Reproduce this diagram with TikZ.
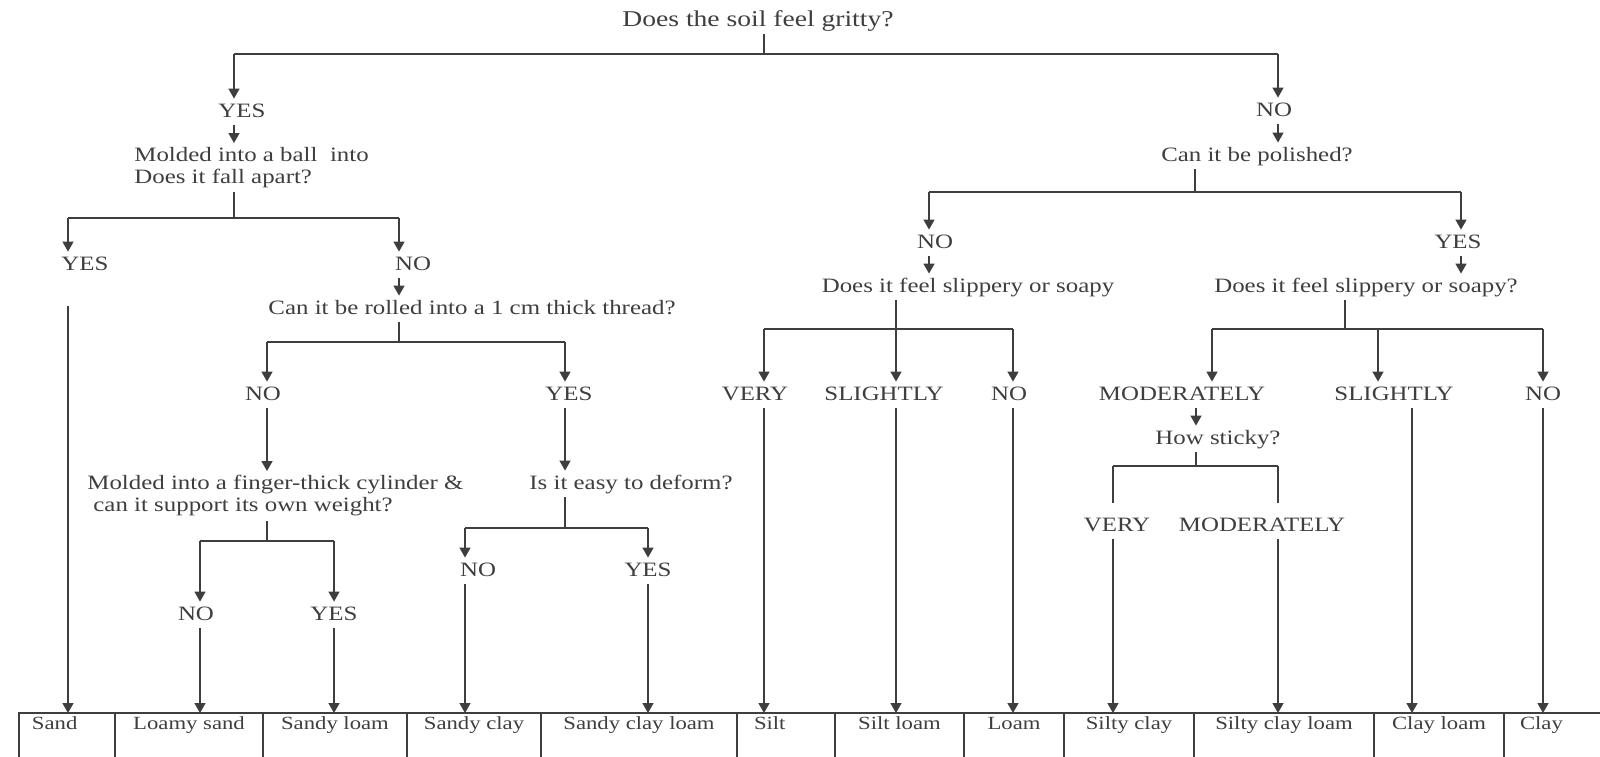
\documentclass[tikz,border=0pt]{standalone}
\usepackage{fontspec}
\setmainfont{Liberation Serif}[FakeStretch=1.22]
\usepackage{tikz}
\usetikzlibrary{arrows.meta}
\usetikzlibrary{calc}
\usetikzlibrary{positioning}
\definecolor{ink}{RGB}{62,62,62}
\newcommand{\askfont}{\fontsize{10.2}{11}\selectfont}
\newcommand{\cellfont}{\fontsize{9.3}{11}\selectfont}
\tikzset{
    common/.style={inner sep=2pt, text=ink},
    question/.style={common, font=\askfont, text height=7pt, text depth=2pt, anchor=base},
    answer/.style={question},
    block/.style={common, font=\askfont, align=left, anchor=north west},
    cell/.style={draw=ink, line width=0.7pt, outer sep=0pt, inner xsep=0pt, inner ysep=0pt,
        text=ink, font=\cellfont, text height=8pt, text depth=26pt},
    cell-left/.style={cell, align=left},
    wire/.style={draw=ink, line width=0.7pt},
    link/.style={wire, -{Triangle[length=5pt, width=5.5pt]}}
}

\begin{document}
\begin{tikzpicture}[x=0.5pt, y=-0.5pt]
      \useasboundingbox (0,0) rectangle (1600,756);

      % questions
      \node[question, font=\fontsize{11.3}{13}\selectfont] (q-gritty) at (758,26) {Does the soil feel gritty?};
      \node[block] (q-ball) at (130,143) {Molded into a ball~ into\\Does it fall apart?};
      \node[question] (q-roll) at (472,314) {Can it be rolled into a 1 cm thick thread?};
      \node[block] (q-cyl) at (83,471) {Molded into a finger-thick cylinder \&\\\hspace*{3pt}can it support its own weight?};
      \node[question] (q-deform) at (631,489) {Is it easy to deform?};
      \node[question] (q-polish) at (1257,161) {Can it be polished?};
      \node[question] (q-slip-1) at (968,292) {Does it feel slippery or soapy};
      \node[question] (q-slip-2) at (1366,292) {Does it feel slippery or soapy?};
      \node[question] (q-sticky) at (1218,444) {How sticky?};

      % answers
      \node[answer] (yes-1) at (242,117) {YES};
      \node[answer] (no-1) at (1274,116) {NO};
      \node[answer] (yes-2) at (85,270) {YES};
      \node[answer] (no-2) at (413,270) {NO};
      \node[answer] (no-3) at (263,400) {NO};
      \node[answer] (yes-3) at (569,400) {YES};
      \node[answer] (no-4) at (196,620) {NO};
      \node[answer] (yes-4) at (334,620) {YES};
      \node[answer] (no-5) at (478,576) {NO};
      \node[answer] (yes-5) at (648,576) {YES};
      \node[answer] (no-6) at (935,248) {NO};
      \node[answer] (yes-6) at (1458,248) {YES};
      \node[answer] (very-1) at (755,400) {VERY};
      \node[answer] (slightly-1) at (884,400) {SLIGHTLY};
      \node[answer] (no-7) at (1009,400) {NO};
      \node[answer] (mod-1) at (1182,400) {MODERATELY};
      \node[answer] (slightly-2) at (1394,400) {SLIGHTLY};
      \node[answer] (no-8) at (1543,400) {NO};
      \node[answer] (very-2) at (1117,531) {VERY};
      \node[answer] (mod-2) at (1262,531) {MODERATELY};

      % texture classes
      \node[cell-left, text width=35pt, inner xsep=6.5pt, anchor=north west] (c-sand) at (19,713) {Sand};
      \node[cell, minimum width=74pt, right=0pt of c-sand] (c-lsand) {Loamy sand};
      \node[cell, minimum width=72pt, right=0pt of c-lsand] (c-sloam) {Sandy loam};
      \node[cell, minimum width=67pt, right=0pt of c-sloam] (c-sclay) {Sandy clay};
      \node[cell, minimum width=98pt, right=0pt of c-sclay] (c-scloam) {Sandy clay loam};
      \node[cell-left, text width=32pt, inner xsep=8.5pt, right=0pt of c-scloam] (c-silt) {Silt};
      \node[cell, minimum width=64.5pt, right=0pt of c-silt] (c-siloam) {Silt loam};
      \node[cell, minimum width=50pt, right=0pt of c-siloam] (c-loam) {Loam};
      \node[cell, minimum width=65pt, right=0pt of c-loam] (c-siclay) {Silty clay};
      \node[cell, minimum width=90pt, right=0pt of c-siclay] (c-sicloam) {Silty clay loam};
      \node[cell, minimum width=65pt, right=0pt of c-sicloam] (c-cloam) {Clay loam};
      \node[cell-left, text width=42pt, inner xsep=8pt, right=0pt of c-cloam] (c-clay) {Clay};

      % branching bars
      \coordinate (b0) at (764,54);   \coordinate (b0-l) at (234,54);   \coordinate (b0-r) at (1278,54);
      \coordinate (b1) at (234,218);  \coordinate (b1-l) at (68,218);   \coordinate (b1-r) at (399,218);
      \coordinate (b2) at (399,342);  \coordinate (b2-l) at (267,342);  \coordinate (b2-r) at (565,342);
      \coordinate (b3) at (267,541);  \coordinate (b3-l) at (200,541);  \coordinate (b3-r) at (334,541);
      \coordinate (b4) at (565,528);  \coordinate (b4-l) at (465,528);  \coordinate (b4-r) at (648,528);
      \coordinate (b5) at (1195,192); \coordinate (b5-l) at (929,192);  \coordinate (b5-r) at (1461,192);
      \coordinate (b6) at (896,329);  \coordinate (b6-l) at (764,329);  \coordinate (b6-r) at (1013,329);
      \coordinate (b7) at (1345,329); \coordinate (b7-l) at (1212,329); \coordinate (b7-m) at (1378,329);
      \coordinate (b7-r) at (1543,329);
      \coordinate (b8) at (1196,466); \coordinate (b8-l) at (1113,466); \coordinate (b8-r) at (1278,466);
      \coordinate (drop-cl) at (1412,400);

      \draw[wire] (q-gritty.south -| b0) -- (b0) (b0-l) -- (b0-r);
      \draw[link] (b0-l) -- (b0-l |- yes-1.north);
      \draw[link] (b0-r) -- (b0-r |- no-1.north);

      % gritty side
      \draw[link] (yes-1.south -| b0-l) -- (q-ball.north -| b0-l);
      \draw[wire] (q-ball.south -| b1) -- (b1) (b1-l) -- (b1-r);
      \draw[link] (b1-l) -- (b1-l |- yes-2.north);
      \draw[link] (b1-r) -- (b1-r |- no-2.north);
      \draw[link] (no-2.south -| b1-r) -- (q-roll.north -| b1-r);
      \draw[wire] (q-roll.south -| b2) -- (b2) (b2-l) -- (b2-r);
      \draw[link] (b2-l) -- (b2-l |- no-3.north);
      \draw[link] (b2-r) -- (b2-r |- yes-3.north);
      \draw[link] (no-3.south -| b2-l) -- (q-cyl.north -| b2-l);
      \draw[link] (yes-3.south -| b2-r) -- (q-deform.north -| b2-r);
      \draw[wire] (q-cyl.south -| b3) -- (b3) (b3-l) -- (b3-r);
      \draw[link] (b3-l) -- (b3-l |- no-4.north);
      \draw[link] (b3-r) -- (b3-r |- yes-4.north);
      \draw[wire] (q-deform.south -| b4) -- (b4) (b4-l) -- (b4-r);
      \draw[link] (b4-l) -- (b4-l |- no-5.north);
      \draw[link] (b4-r) -- (b4-r |- yes-5.north);

      % not gritty side
      \draw[link] (no-1.south -| b0-r) -- (q-polish.north -| b0-r);
      \draw[wire] (q-polish.south -| b5) -- (b5) (b5-l) -- (b5-r);
      \draw[link] (b5-l) -- (b5-l |- no-6.north);
      \draw[link] (b5-r) -- (b5-r |- yes-6.north);
      \draw[link] (no-6.south -| b5-l) -- (q-slip-1.north -| b5-l);
      \draw[link] (yes-6.south -| b5-r) -- (q-slip-2.north -| b5-r);
      \draw[link] (q-slip-1.south -| b6) -- (b6 |- slightly-1.north);
      \draw[wire] (b6-l) -- (b6-r);
      \draw[link] (b6-l) -- (b6-l |- very-1.north);
      \draw[link] (b6-r) -- (b6-r |- no-7.north);
      \draw[wire] (q-slip-2.south -| b7) -- (b7) (b7-l) -- (b7-r);
      \draw[link] (b7-l) -- (b7-l |- mod-1.north);
      \draw[link] (b7-m) -- (b7-m |- slightly-2.north);
      \draw[link] (b7-r) -- (b7-r |- no-8.north);
      \draw[link] (mod-1.south -| b8) -- (q-sticky.north -| b8);
      \draw[wire] (q-sticky.south -| b8) -- (b8) (b8-l) -- (b8-r);
      \draw[wire, shorten >=5pt] (b8-l) -- (b8-l |- very-2.north);
      \draw[wire, shorten >=5pt] (b8-r) -- (b8-r |- mod-2.north);

      % down to the classes
      \draw[link] ($(yes-2.south -| b1-l)+(0,28)$) -- (b1-l |- c-sand.north);
      \draw[link] (no-4.south -| b3-l) -- (b3-l |- c-lsand.north);
      \draw[link] (yes-4.south -| b3-r) -- (b3-r |- c-sloam.north);
      \draw[link] (no-5.south -| b4-l) -- (b4-l |- c-sclay.north);
      \draw[link] (yes-5.south -| b4-r) -- (b4-r |- c-scloam.north);
      \draw[link] (very-1.south -| b6-l) -- (b6-l |- c-silt.north);
      \draw[link] (slightly-1.south -| b6) -- (b6 |- c-siloam.north);
      \draw[link] (no-7.south -| b6-r) -- (b6-r |- c-loam.north);
      \draw[link] (very-2.south -| b8-l) -- (b8-l |- c-siclay.north);
      \draw[link] (mod-2.south -| b8-r) -- (b8-r |- c-sicloam.north);
      \draw[link] (slightly-2.south -| drop-cl) -- (drop-cl |- c-cloam.north);
      \draw[link] (no-8.south -| b7-r) -- (b7-r |- c-clay.north);
\end{tikzpicture}
\end{document}
